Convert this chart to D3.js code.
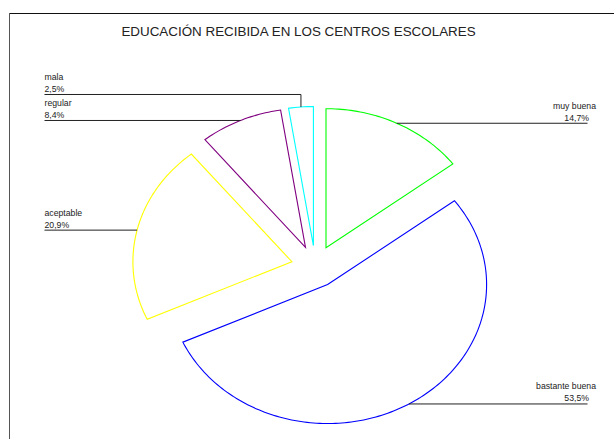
<!DOCTYPE html>
<html>
<head>
<meta charset="utf-8">
<script src="https://cdn.jsdelivr.net/npm/d3@7"></script>
<style>
  html, body { margin: 0; padding: 0; background: #fff; }
  svg { display: block; }
  text { font-family: Arial, "Liberation Sans", sans-serif; fill: #222; }
</style>
</head>
<body>
<svg id="chart" width="614" height="439"></svg>
<script>
// Survey data: quality of education received at school
const categories = ["muy buena", "bastante buena", "aceptable", "regular", "mala"];
const percents = [14.7, 53.5, 20.9, 8.4, 2.5];
const percentLabels = ["14,7%", "53,5%", "20,9%", "8,4%", "2,5%"];
const sliceColors = ["#00ff00", "#0000ff", "#ffff00", "#800080", "#00ffff"];
const title = "EDUCACIÓN RECIBIDA EN LOS CENTROS ESCOLARES";

// Layout
const W = 614, H = 439;
const cx = 315.3, cy = 266.5;      // pie centre
const rx = 159, ry = 139;          // elliptical radii
const explode = 21 / ry;           // slice offset, in radius units
const leftLabelX = 44.5, rightLineX = 587.5;
const leaderRise = { "mala": 12.5 };

const svg = d3.select("#chart");

// Frame (top and left rules)
svg.append("line").attr("x1", 9).attr("x2", W).attr("y1", 13.5).attr("y2", 13.5)
  .attr("stroke", "#111").attr("stroke-width", 1);
svg.append("line").attr("x1", 9.5).attr("x2", 9.5).attr("y1", 13).attr("y2", H)
  .attr("stroke", "#555").attr("stroke-width", 1);

// Title
svg.append("text").attr("x", 298.5).attr("y", 36).attr("text-anchor", "middle")
  .style("font-size", "13.4px").text(title);

// Normalised (unit-circle) coordinates mapped onto the ellipse
const sx = d3.scaleLinear().domain([-1, 1]).range([cx - rx, cx + rx]);
const sy = d3.scaleLinear().domain([-1, 1]).range([cy - ry, cy + ry]);

const arcs = d3.pie().sort(null).value(d => d)(percents);
const line = d3.line().x(d => sx(d[0])).y(d => sy(d[1]));

const slices = svg.append("g");
const leaders = svg.append("g");
const labels = svg.append("g");

arcs.forEach((a, i) => {
  const mid = (a.startAngle + a.endAngle) / 2;
  const ox = explode * Math.sin(mid), oy = -explode * Math.cos(mid);
  const n = Math.max(8, Math.ceil((a.endAngle - a.startAngle) / 0.02));
  const pts = [[ox, oy]];
  d3.range(n + 1).forEach(k => {
    const t = a.startAngle + (a.endAngle - a.startAngle) * k / n;
    pts.push([ox + Math.sin(t), oy - Math.cos(t)]);
  });
  pts.push([ox, oy]);
  slices.append("path").attr("d", line(pts) + "Z")
    .attr("fill", "none").attr("stroke", sliceColors[i]).attr("stroke-width", 1.1)
    .attr("stroke-linejoin", "miter");

  // Leader line from the middle of the arc to the label
  const px = sx(ox + Math.sin(mid)), py = sy(oy - Math.cos(mid));
  const rise = leaderRise[categories[i]] || 0;
  const ly = py - rise;
  const left = Math.sin(mid) < 0;
  const endX = left ? leftLabelX : rightLineX;
  const path = d3.path();
  path.moveTo(px, py);
  if (rise) path.lineTo(px, ly);
  path.lineTo(endX, ly);
  leaders.append("path").attr("d", path.toString())
    .attr("fill", "none").attr("stroke", "#222").attr("stroke-width", 1);

  if (left) {
    labels.append("text").attr("x", leftLabelX).attr("y", ly - 14.5)
      .style("font-size", "8.7px").text(categories[i]);
    labels.append("text").attr("x", leftLabelX).attr("y", ly - 2.5)
      .style("font-size", "8.7px").text(percentLabels[i]);
  } else {
    labels.append("text").attr("x", rightLineX + 8.5).attr("y", ly - 14.5)
      .attr("text-anchor", "end").style("font-size", "8.7px").text(categories[i]);
    labels.append("text").attr("x", rightLineX + 1.5).attr("y", ly - 2.5)
      .attr("text-anchor", "end").style("font-size", "8.7px").text(percentLabels[i]);
  }
});
</script>
</body>
</html>
